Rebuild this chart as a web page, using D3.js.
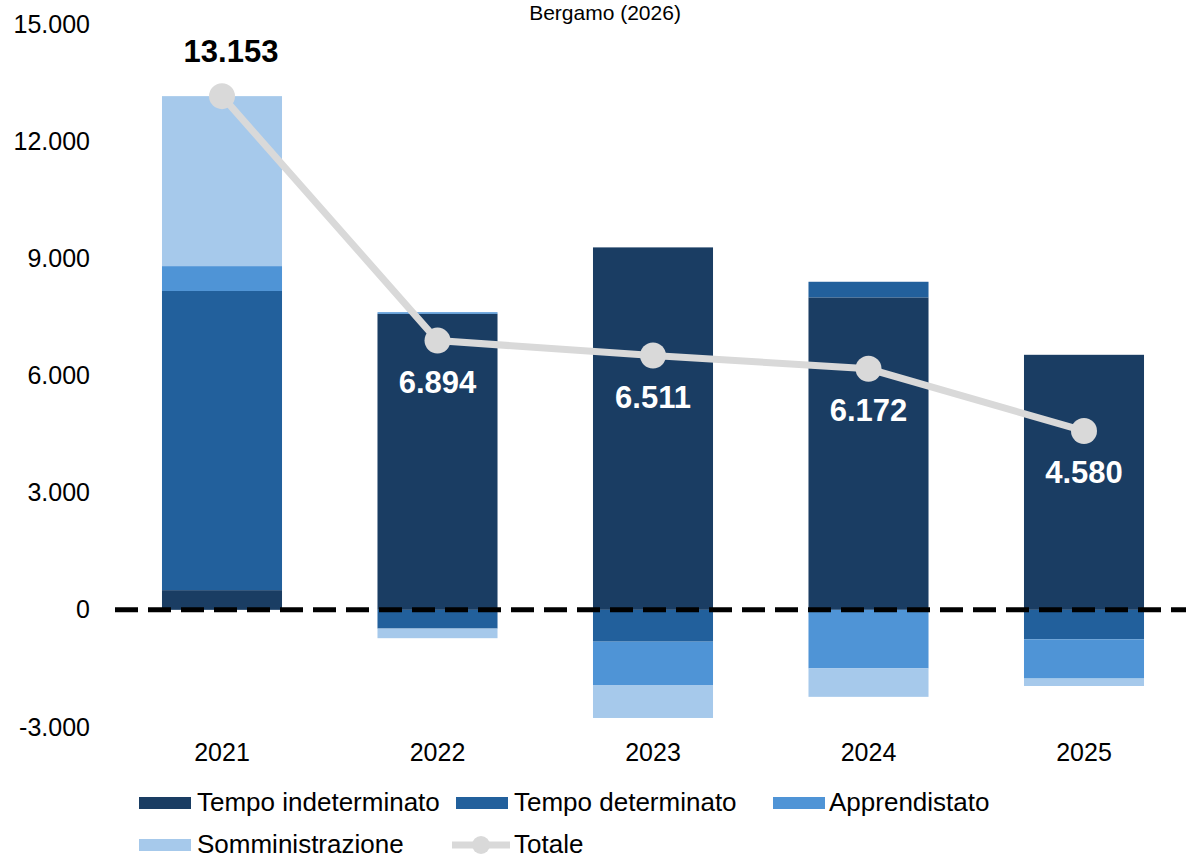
<!DOCTYPE html>
<html>
<head>
<meta charset="utf-8">
<script src="https://cdn.jsdelivr.net/npm/d3@7"></script>
<style>
  html, body { margin: 0; padding: 0; background: #fff; }
  svg { display: block; font-family: "Liberation Sans", Arial, sans-serif; }
</style>
</head>
<body>
<svg id="chart" width="1186" height="858"></svg>
<script>
const title = "Bergamo (2026)";
const years = ["2021", "2022", "2023", "2024", "2025"];
const seriesNames = ["Tempo indeterminato", "Tempo determinato", "Apprendistato", "Somministrazione"];
const indeterminato = [504, 7580, 9280, 8000, 6530];
const determinato = [7660, -480, -815, 400, -755];
const apprendistato = [637, 40, -1110, -1500, -1005];
const somministrazione = [4352, -246, -844, -728, -190];
const totale = [13153, 6894, 6511, 6172, 4580];
const totaleName = "Totale";
const yTicks = [-3000, 0, 3000, 6000, 9000, 12000, 15000];
const colors = ["#1a3d63", "#22609c", "#4f94d6", "#a6c9eb"];
const lineColor = "#d9d9d9";

const svg = d3.select("#chart");
const x = d3.scaleBand().domain(years).range([114.25, 1191.75]).paddingInner(0.443).paddingOuter(0.2215);
const y = d3.scaleLinear().domain([-3000, 15000]).range([727, 24]);

const fmt = v => d3.format(",")(v).replace(/,/g, ".").replace("\u2212", "-");

// title
svg.append("text").attr("x", 605).attr("y", 20).attr("text-anchor", "middle")
  .style("font-size", "21px").attr("fill", "#000").text(title);

// y axis labels
const yAxis = d3.axisLeft(y).tickValues(yTicks).tickSize(0).tickPadding(0).tickFormat(fmt);
const gy = svg.append("g").attr("transform", "translate(90,0)").call(yAxis);
gy.select(".domain").remove();
gy.selectAll("text").style("font-size", "25px").attr("fill", "#000").attr("font-family", "Liberation Sans, Arial, sans-serif");

// stacked bars
const data = years.map((yr, i) => ({ year: yr, vals: [indeterminato[i], determinato[i], apprendistato[i], somministrazione[i]] }));
const gBars = svg.append("g");
data.forEach(d => {
  let pos = 0, neg = 0;
  d.vals.forEach((v, k) => {
    let y0, y1;
    if (v >= 0) { y0 = pos; y1 = pos + v; pos = y1; }
    else { y0 = neg; y1 = neg + v; neg = y1; }
    gBars.append("rect")
      .attr("x", x(d.year)).attr("width", x.bandwidth())
      .attr("y", y(Math.max(y0, y1))).attr("height", Math.abs(y(y0) - y(y1)))
      .attr("fill", colors[k]);
  });
});

// zero dashed line
svg.append("line").attr("x1", 115).attr("x2", 1186).attr("y1", y(0)).attr("y2", y(0))
  .attr("stroke", "#000").attr("stroke-width", 5).attr("stroke-dasharray", "23,10");

// x axis labels
const xAxis = d3.axisBottom(x).tickSize(0).tickPadding(0);
const gx = svg.append("g").attr("transform", "translate(0,743)").call(xAxis);
gx.select(".domain").remove();
gx.selectAll("text").style("font-size", "25px").attr("fill", "#000").attr("font-family", "Liberation Sans, Arial, sans-serif");

// total line
const line = d3.line().x((d, i) => x(years[i]) + x.bandwidth() / 2).y(d => y(d));
svg.append("path").datum(totale).attr("d", line).attr("fill", "none")
  .attr("stroke", lineColor).attr("stroke-width", 7);
svg.selectAll("circle.pt").data(totale).enter().append("circle")
  .attr("cx", (d, i) => x(years[i]) + x.bandwidth() / 2).attr("cy", d => y(d))
  .attr("r", 13).attr("fill", lineColor);

// total labels
svg.selectAll("text.lbl").data(totale).enter().append("text")
  .attr("x", (d, i) => x(years[i]) + x.bandwidth() / 2 + (i === 0 ? 9 : 0))
  .attr("y", (d, i) => i === 0 ? y(d) - 34 : y(d) + 52)
  .attr("text-anchor", "middle").style("font-size", "31px").style("font-weight", "bold")
  .attr("fill", (d, i) => i === 0 ? "#000" : "#fff").text(d => fmt(d));

// legend
const leg = svg.append("g").style("font-size", "26px");
const items = [
  { name: seriesNames[0], color: colors[0], sx: 139, tx: 197, y: 803 },
  { name: seriesNames[1], color: colors[1], sx: 456, tx: 514, y: 803 },
  { name: seriesNames[2], color: colors[2], sx: 773, tx: 829, y: 803 },
  { name: seriesNames[3], color: colors[3], sx: 139, tx: 197, y: 845 }
];
items.forEach(it => {
  leg.append("rect").attr("x", it.sx).attr("y", it.y - 6).attr("width", 52).attr("height", 12).attr("fill", it.color);
  leg.append("text").attr("x", it.tx).attr("y", it.y + 8).attr("fill", "#000").text(it.name);
});
leg.append("line").attr("x1", 452).attr("x2", 510).attr("y1", 845).attr("y2", 845)
  .attr("stroke", lineColor).attr("stroke-width", 7);
leg.append("circle").attr("cx", 481).attr("cy", 845).attr("r", 9).attr("fill", lineColor);
leg.append("text").attr("x", 514).attr("y", 853).attr("fill", "#000").text(totaleName);
</script>
</body>
</html>
